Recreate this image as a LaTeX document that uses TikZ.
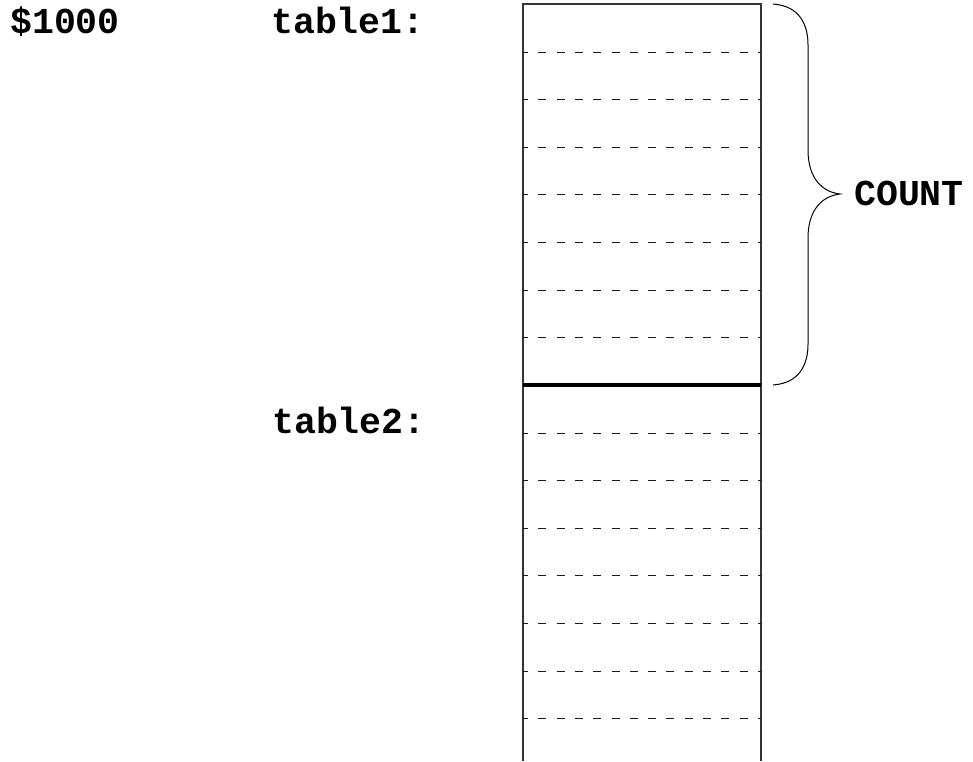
\documentclass[tikz,border=0pt]{standalone}
\usepackage{fontspec}
\setmonofont{Liberation Mono}
\begin{document}
\begin{tikzpicture}[x=1pt,y=-1pt,
  lbl/.style={font=\ttfamily\bfseries\fontsize{36.5}{40}\selectfont, anchor=base west, inner sep=0pt},
  cellsep/.style={line width=1.5pt, dash pattern=on 8pt off 10.3pt, dash phase=3pt, draw=black!90},
  frame/.style={line width=1.2pt, draw=black!80},
  split/.style={line width=3.6pt, draw=black},
  bracepath/.style={line width=1pt, draw=black}]
  \useasboundingbox (0,0) rectangle (973,761);

  % memory column
  \coordinate (tl) at (523,4);
  \coordinate (tr) at (761,4);
  \coordinate (bl) at (523,761);
  \coordinate (br) at (761,761);
  \draw[frame] (bl) -- (tl) -- (tr) -- (br);

  % row separators (one cell = 47.6 units)
  \foreach \y in {52.5,99.5,147.5,194.5,242.5,290.5,337.5,
                  433.5,480.5,528.5,575.5,623.5,671.5,718.5} {
    \draw[cellsep] (523,\y) -- (761,\y);
  }
  % boundary between table1 and table2
  \draw[split] (523,385) -- (761,385);

  % labels
  \node[lbl] (addr) at (10,33) {\$1000};
  \node[lbl] (t1) at (271,33) {table1:};
  \node[lbl] (t2) at (272,433) {table2:};

  % brace spanning table1
  \coordinate (btop) at (773,4);
  \coordinate (bbot) at (773,385);
  \coordinate (tip) at (840,194);
  \draw[bracepath] (btop) .. controls (800,6) and (808,25) .. (808,45)
    -- (808,150) .. controls (808,178) and (822,192) .. (tip)
    .. controls (822,196) and (808,210) .. (808,238)
    -- (808,344) .. controls (808,364) and (800,383) .. (bbot);
  \node[lbl] (count) at (854,205) {COUNT};
\end{tikzpicture}
\end{document}
